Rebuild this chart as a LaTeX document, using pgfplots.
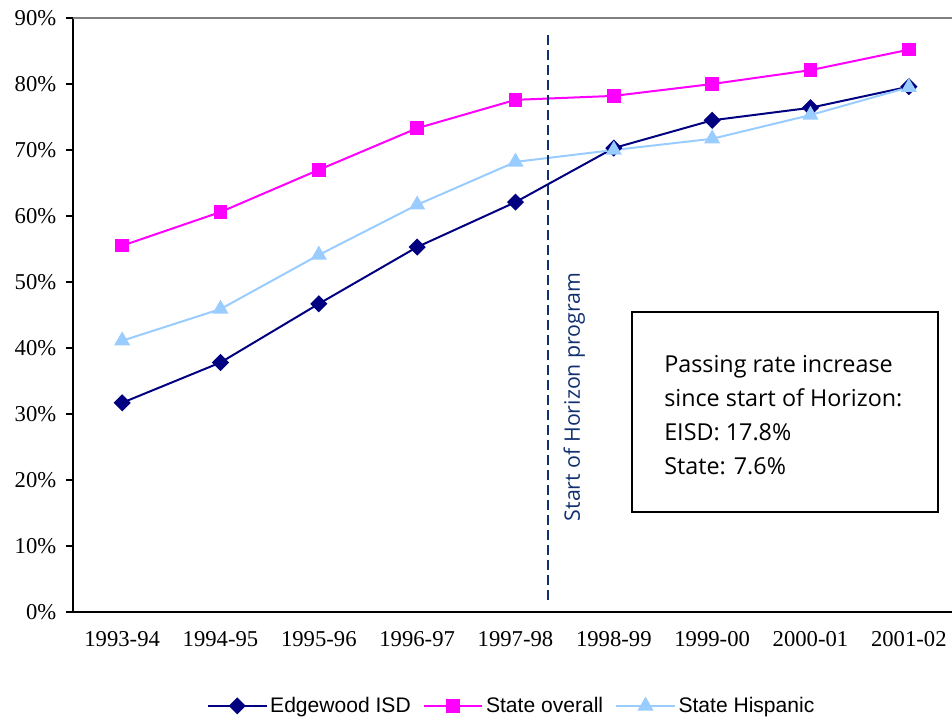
\documentclass[border=0pt]{standalone}
\usepackage{pgfplots}
\pgfplotsset{compat=1.18}
\usepackage{fontspec}
\setmainfont{Liberation Serif}
\newfontfamily\legendfont{Liberation Sans}
\newfontfamily\notefont{Open Sans}
\definecolor{edgeblue}{RGB}{0,0,128}
\definecolor{statepink}{RGB}{255,0,255}
\definecolor{hispblue}{RGB}{153,204,255}
\definecolor{horizon}{RGB}{16,48,112}

\pgfplotstableread{
x edgewood overall hispanic
0 31.7 55.5 41.1
1 37.8 60.6 45.9
2 46.7 67.0 54.1
3 55.3 73.3 61.7
4 62.1 77.6 68.2
5 70.3 78.2 70.0
6 74.5 80.0 71.7
7 76.4 82.1 75.3
8 79.6 85.2 79.5
}\passdata

\begin{document}
\begin{tikzpicture}
\begin{axis}[
  scale only axis, width=663.75pt, height=445.5pt,
  xmin=-0.5, xmax=8.5, ymin=0, ymax=90,
  axis x line*=bottom, axis y line*=left,
  axis line style={black, line width=0.9pt},
  tick style={black, line width=0.8pt},
  tick align=outside, major tick length=5pt,
  xtick={0,...,8},
  xticklabels={1993-94,1994-95,1995-96,1996-97,1997-98,1998-99,1999-00,2000-01,2001-02},
  major x tick style={draw=none},
  extra x ticks={-0.5,0.5,...,8.5},
  extra x tick labels={},
  extra x tick style={major x tick style={black, line width=0.8pt}, major tick length=5pt},
  xticklabel style={yshift=-6pt},
  ytick={0,10,...,90},
  yticklabel={\pgfmathprintnumber{\tick}\%},
  /pgf/number format/assume math mode=true,
  ticklabel style={font=\fontsize{17}{20}\selectfont},
  yticklabel style={xshift=-4pt},
  legend columns=3,
  legend style={at={(0.496,-0.158)}, anchor=center, draw=none,
    font=\legendfont\fontsize{15.8}{18}\selectfont,
    /tikz/every even column/.append style={column sep=7pt}},
  legend image code/.code={\draw[mark repeat=2,mark phase=2] plot coordinates {(0pt,0pt) (22pt,0pt) (44pt,0pt)};},
  clip=false,
]
\addplot[edgeblue, line width=1.5pt, mark=square*, mark size=3.8pt, mark options={rotate=45, solid}] table[x=x, y=edgewood] {\passdata};
\addlegendentry{Edgewood ISD}
\addplot[statepink, line width=1.5pt, mark=square*, mark size=4.3pt, mark options={solid}] table[x=x, y=overall] {\passdata};
\addlegendentry{State overall}
\addplot[hispblue, line width=1.5pt, mark=triangle*, mark size=5.5pt, mark options={solid}] table[x=x, y=hispanic] {\passdata};
\addlegendentry{State Hispanic}
\draw[gray, line width=0.9pt] (rel axis cs:0,1) -- (rel axis cs:1,1);
\draw[horizon, line width=1.4pt, dash pattern=on 7.5pt off 3.75pt] (axis cs:4.33,1.8) -- (axis cs:4.33,87.9);
\node[rotate=90, text=horizon, font=\notefont\fontsize{16}{18}\selectfont, inner sep=0pt] at (axis cs:4.597,32.6) {Start of Horizon program};
\end{axis}
\draw[black, line width=1.1pt] (419.25pt,75pt) rectangle (648.75pt,225pt);
\begin{scope}[every node/.style={anchor=base west, inner sep=0pt, font=\notefont\fontsize{17.5}{20}\selectfont}]
\node at (443.25pt,180pt) {Passing rate increase};
\node at (443.25pt,154.5pt) {since start of Horizon:};
\node at (443.25pt,129pt) {EISD: 17.8\%};
\node at (443.25pt,103.5pt) {State: 7.6\%};
\end{scope}
\pgfresetboundingbox
\path (-54.75pt,-80.25pt) rectangle (659.25pt,459pt);
\end{tikzpicture}
\end{document}
